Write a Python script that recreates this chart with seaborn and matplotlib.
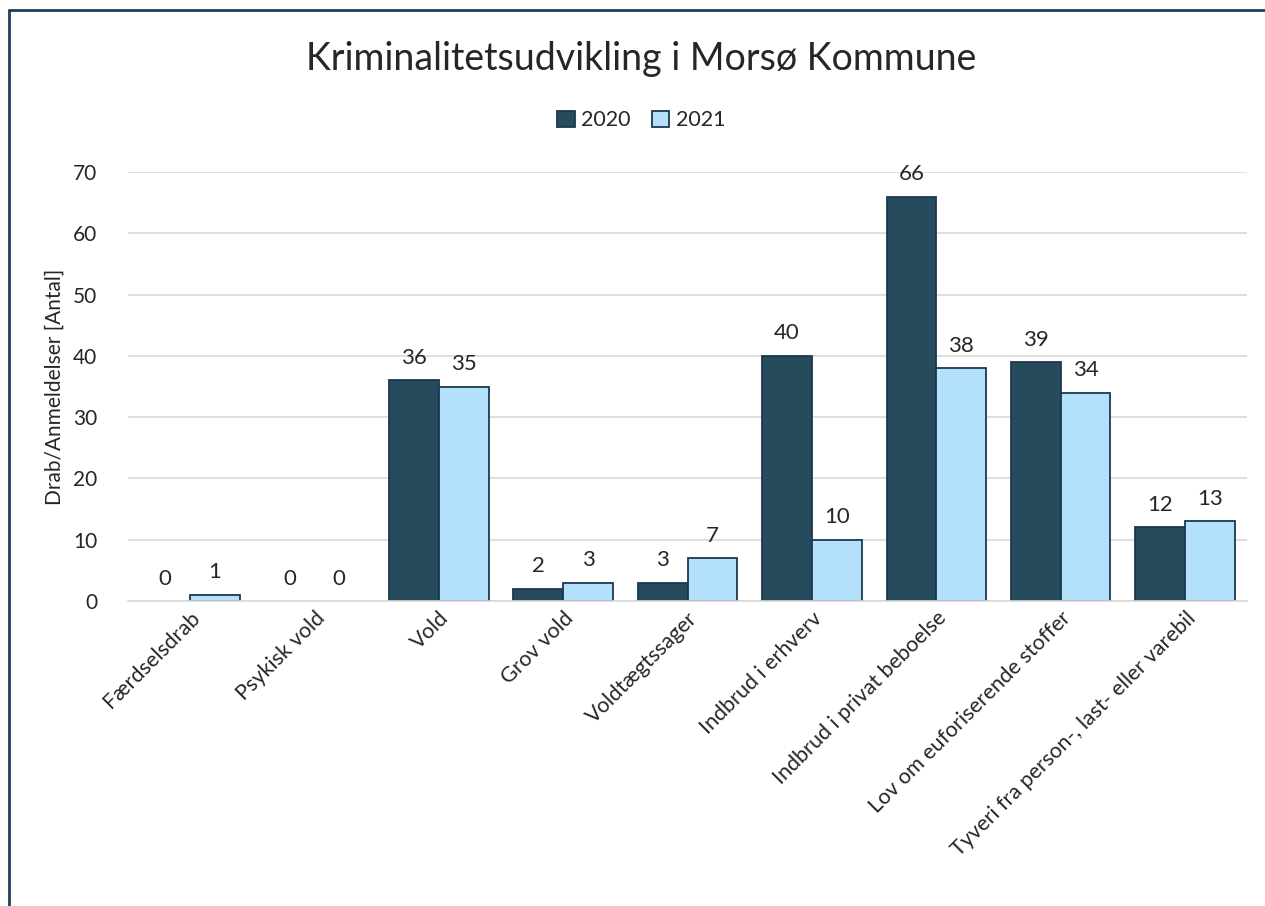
import pandas as pd
import matplotlib
matplotlib.use("Agg")
import matplotlib.pyplot as plt
from matplotlib.lines import Line2D
import seaborn as sns

# Data
categories = ["Færdselsdrab", "Psykisk vold", "Vold", "Grov vold", "Voldtægtssager",
              "Indbrud i erhverv", "Indbrud i privat beboelse",
              "Lov om euforiserende stoffer", "Tyveri fra person-, last- eller varebil"]
values_2020 = [0, 0, 36, 2, 3, 40, 66, 39, 12]
values_2021 = [1, 0, 35, 3, 7, 10, 38, 34, 13]
years = ["2020", "2021"]
yticks = [0, 10, 20, 30, 40, 50, 60, 70]

df = pd.DataFrame({
    "Kategori": categories * 2,
    "År": [years[0]] * len(categories) + [years[1]] * len(categories),
    "Antal": values_2020 + values_2021,
})

sns.set_theme(style="white")
plt.rcParams["font.family"] = ["Lato", "DejaVu Sans"]

fig = plt.figure(figsize=(12.65, 9.06), dpi=100)
ax = fig.add_axes([0.101, 0.3366, 0.885, 0.4735])

edge = "#1c3850"
palette = {"2020": "#254b5d", "2021": "#b3e1fb"}
sns.barplot(data=df, x="Kategori", y="Antal", hue="År", palette=palette,
            order=categories, hue_order=years, width=0.8, saturation=1,
            edgecolor=edge, linewidth=1.3, ax=ax)

# zero bars have no visible outline in the original
for p in ax.patches:
    if p.get_height() == 0:
        p.set_linewidth(0)

for cont in ax.containers:
    ax.bar_label(cont, fmt="%d", padding=9, fontsize=16, color="#262626")

ax.set_ylim(0, 70)
ax.set_yticks(yticks)
ax.yaxis.grid(True, color="#d9d9d9", linewidth=1.2)
ax.set_axisbelow(True)
for s in ["top", "right", "left"]:
    ax.spines[s].set_visible(False)
ax.spines["bottom"].set_color("#d9d9d9")
ax.spines["bottom"].set_linewidth(1.2)

ax.tick_params(axis="y", labelsize=15, labelcolor="#262626", length=0, pad=22)
ax.tick_params(axis="x", labelsize=15.5, labelcolor="#262626", length=0, pad=5)
plt.setp(ax.get_xticklabels(), rotation=45, ha="right", rotation_mode="anchor")

ax.set_xlabel("")
ax.set_ylabel("Drab/Anmeldelser [Antal]", fontsize=15, color="#262626", labelpad=6)

handles, labels = ax.get_legend_handles_labels()
leg = ax.legend(handles, labels, loc="center", bbox_to_anchor=(0.507, 0.867),
                bbox_transform=fig.transFigure, ncol=2, frameon=False,
                fontsize=15.5, handlelength=0.8, handleheight=0.8,
                handletextpad=0.3, columnspacing=1.0)
for h in leg.legend_handles:
    h.set_edgecolor(edge)
    h.set_linewidth(1.3)

fig.suptitle("Kriminalitetsudvikling i Morsø Kommune", x=0.507, y=0.955,
             fontsize=27, color="#262626")

# frame lines at the left and top edges, as in the reference crop
fig.add_artist(Line2D([0.0075, 0.0075], [0.0, 0.989], transform=fig.transFigure,
                      color="#1f3f5a", linewidth=2))
fig.add_artist(Line2D([0.0075, 1.0], [0.989, 0.989], transform=fig.transFigure,
                      color="#1f3f5a", linewidth=2))

fig.savefig("out.png", dpi=100, facecolor="white")
